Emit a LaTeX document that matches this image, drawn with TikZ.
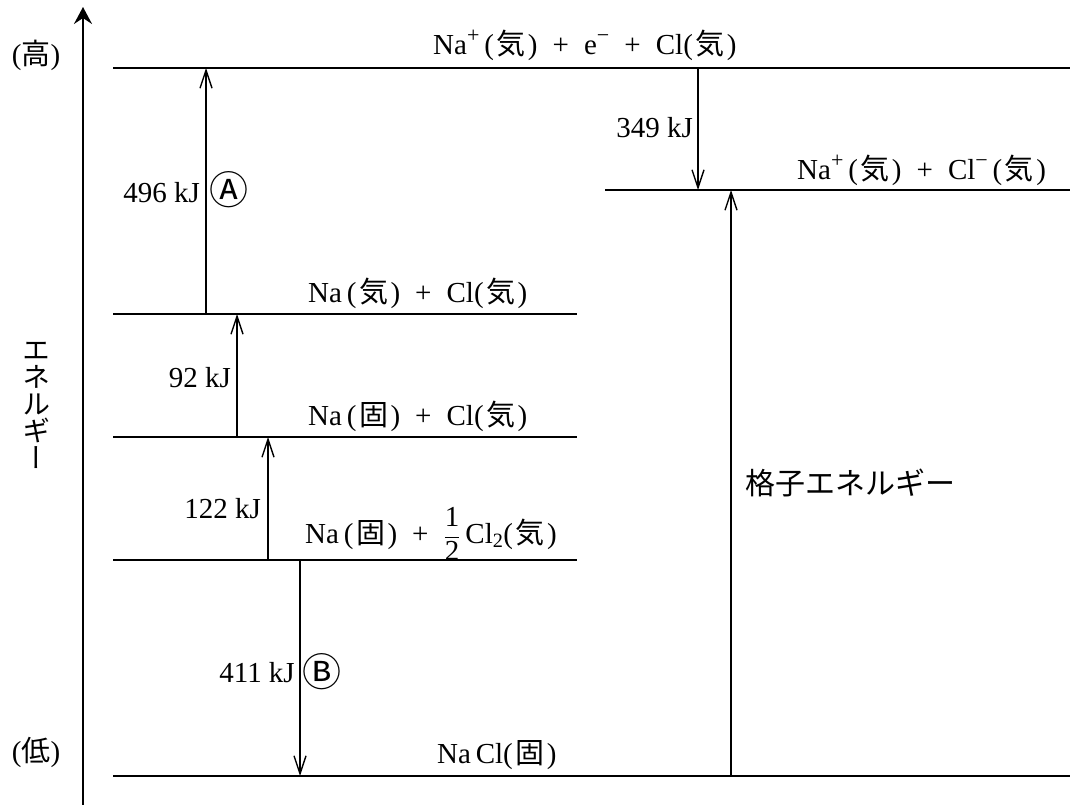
\documentclass[tikz,border=0pt]{standalone}
\usepackage{fontspec}
\usepackage{graphicx}
\setmainfont{Liberation Serif}
\newfontfamily\cjk{Noto Sans CJK JP}
\newfontfamily\cjkv[RawFeature={+vert}]{Noto Sans CJK JP}
\usetikzlibrary{arrows.meta}
\newcommand{\Ki}{\kern2.5pt{\cjk 気}\kern2.5pt}
\newcommand{\Ko}{\kern2.5pt{\cjk 固}\kern2.5pt}
\newcommand{\Pl}{\hspace{0.52em}+\hspace{0.52em}}
\newcommand{\Chg}[1]{\raisebox{0.42em}{\fontsize{22}{22}\selectfont #1}}
\tikzset{
  level/.style={line width=2.4pt},
  uparr/.style={line width=1.4pt,-{Straight Barb[length=18pt,width=12pt]}},
  axisarr/.style={line width=2.2pt,-{Stealth[length=17pt,width=18pt,inset=6pt]}},
  lbl/.style={inner sep=0pt},
  circ/.style={inner sep=0pt,font=\cjk\fontsize{39}{40}\selectfont},
}
\begin{document}
\begin{tikzpicture}[x=1pt,y=-1pt,font=\fontsize{29}{34}\selectfont]
\useasboundingbox (0,0) rectangle (1072,805);
% axis
\coordinate (ax0) at (83,805);
\coordinate (ax1) at (83,7);
\draw[axisarr] (ax0) -- (ax1);
\node[lbl] (hi) at (36,55) {({\cjk 高})};
\node[lbl] (lo) at (36,752) {({\cjk 低})};
\node[lbl,align=center,font=\cjkv\fontsize{28}{27}\selectfont] (ene) at (37,405) {エ\\ネ\\ル\\ギ\\ー};
% level lines
\coordinate (L1a) at (113,68);  \coordinate (L1b) at (1070,68);
\coordinate (L2a) at (605,190); \coordinate (L2b) at (1070,190);
\coordinate (L3a) at (113,314); \coordinate (L3b) at (577,314);
\coordinate (L4a) at (113,437); \coordinate (L4b) at (577,437);
\coordinate (L5a) at (113,560); \coordinate (L5b) at (577,560);
\coordinate (L6a) at (113,776); \coordinate (L6b) at (1070,776);
\draw[level] (L1a) -- (L1b);
\draw[level] (L2a) -- (L2b);
\draw[level] (L3a) -- (L3b);
\draw[level] (L4a) -- (L4b);
\draw[level] (L5a) -- (L5b);
\draw[level] (L6a) -- (L6b);
% level texts
\node[lbl,anchor=base west] (t1) at (433,55) {Na\Chg{+}\,(\Ki)\Pl e\Chg{−}\Pl Cl(\Ki)};
\node[lbl,anchor=base west] (t2) at (797,180) {Na\Chg{+}\,(\Ki)\Pl Cl\Chg{−}\,(\Ki)};
\node[lbl,anchor=base west] (t3) at (308,303) {Na\,(\Ki)\Pl Cl(\Ki)};
\node[lbl,anchor=base west] (t4) at (308,425) {Na\,(\Ko)\Pl Cl(\Ki)};
\node[lbl,anchor=base west] (t5) at (305,543) {Na\,(\Ko)\Pl $\displaystyle\frac{\hbox{1}}{\hbox{2}}$\,Cl\textsubscript{2}(\Ki)};
\node[lbl,anchor=base west] (t6) at (437,763) {Na\,Cl(\Ko)};
% arrows
\coordinate (a1s) at (206,314); \coordinate (a1e) at (206,68);
\coordinate (a2s) at (237,437); \coordinate (a2e) at (237,314);
\coordinate (a3s) at (268,560); \coordinate (a3e) at (268,437);
\coordinate (a4s) at (300,560); \coordinate (a4e) at (300,776);
\coordinate (a5s) at (698,68);  \coordinate (a5e) at (698,190);
\coordinate (a6s) at (731,776); \coordinate (a6e) at (731,190);
\draw[uparr] (a1s) -- (a1e);
\draw[uparr] (a2s) -- (a2e);
\draw[uparr] (a3s) -- (a3e);
\draw[uparr] (a4s) -- (a4e);
\draw[uparr] (a5s) -- (a5e);
\draw[uparr] (a6s) -- (a6e);
% arrow labels
\node[lbl,anchor=base east] (k496) at (200,203) {496 kJ};
\node[circ] (cA) at (229,190) {Ⓐ};
\node[lbl,anchor=base east] (k92) at (231,388) {92 kJ};
\node[lbl,anchor=base east] (k122) at (261,518) {122 kJ};
\node[lbl,anchor=base east] (k411) at (295,682) {411 kJ};
\node[circ] (cB) at (322,672) {Ⓑ};
\node[lbl,anchor=base east] (k349) at (693,138) {349 kJ};
\node[lbl,anchor=west,font=\cjk\fontsize{30}{32}\selectfont] (lat) at (745,483) {格子エネルギー};
\end{tikzpicture}
\end{document}
